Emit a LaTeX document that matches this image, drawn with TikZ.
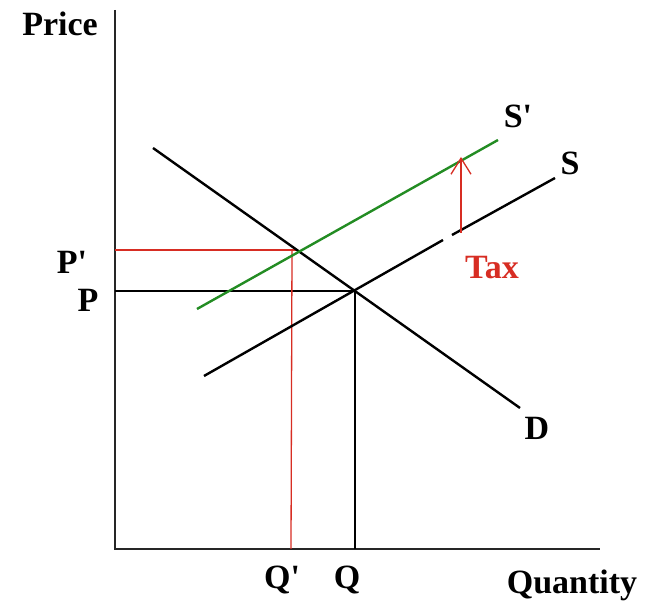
\documentclass[tikz,border=0pt]{standalone}
\usepackage{fontspec}
\setmainfont{Liberation Serif}
\usetikzlibrary{arrows.meta}
\definecolor{taxred}{RGB}{215,45,35}
\definecolor{sgreen}{RGB}{35,140,35}
\newcommand{\prm}{\textquotesingle}
\begin{document}
\begin{tikzpicture}[x=1pt,y=1pt,
  lbl/.style={font=\fontsize{34}{37}\selectfont\bfseries, inner sep=0pt},
  axis/.style={line width=1.6pt, black!85},
  curve/.style={line width=2.4pt},
  guide/.style={line width=1.3pt}]
\useasboundingbox (0,0) rectangle (648,604);
% axes
\coordinate (ytop) at (115,594);
\coordinate (orig) at (115,55);
\coordinate (xend) at (600,55);
\draw[axis] (ytop) -- (orig) -- (xend);
% curve end points
\coordinate (D1) at (153,456);
\coordinate (D2) at (520,196);
\coordinate (S1) at (204,228);
\coordinate (Sg1) at (443,364);
\coordinate (Sg2) at (452,369);
\coordinate (S2) at (555,426);
\coordinate (Sp1) at (197,295);
\coordinate (Sp2) at (498,464);
% equilibrium points
\coordinate (E) at (355,313);
\coordinate (Ep) at (297,354);
\coordinate (Pax) at (115,313);
\coordinate (Qax) at (355,55);
\coordinate (Ppax) at (115,354);
\coordinate (Qptop) at (292,354);
\coordinate (Qpax) at (291,55);
\coordinate (Tbot) at (461,371);
\coordinate (Ttop) at (461,447);
% guides
\draw[guide, black] (Pax) -- (E) -- (Qax);
\draw[guide, taxred] (Ppax) -- (Ep);
\draw[guide, taxred] (Qptop) -- (Qpax);
% curves
\draw[curve, black] (D1) -- (D2);
\draw[curve, black] (S1) -- (Sg1);
\draw[curve, black] (Sg2) -- (S2);
\draw[curve, sgreen] (Sp1) -- (Sp2);
% tax arrow
\draw[guide, taxred, -{Straight Barb[length=16pt,width=20pt,line width=1.3pt]}] (Tbot) -- (Ttop);
% labels
\node[lbl] (price) at (60,580) {Price};
\node[lbl] (pp) at (72,342) {P\prm};
\node[lbl] (p) at (88,304) {P};
\node[lbl] (qp) at (282,24) {Q\prm};
\node[lbl] (q) at (347,24) {Q};
\node[lbl, anchor=base] (quant) at (572,10) {Quantity};
\node[lbl] (spl) at (518,488) {S\prm};
\node[lbl] (sl) at (570,441) {S};
\node[lbl] (dl) at (537,176) {D};
\node[lbl, text=taxred] (tax) at (492,336) {Tax};
\end{tikzpicture}
\end{document}
